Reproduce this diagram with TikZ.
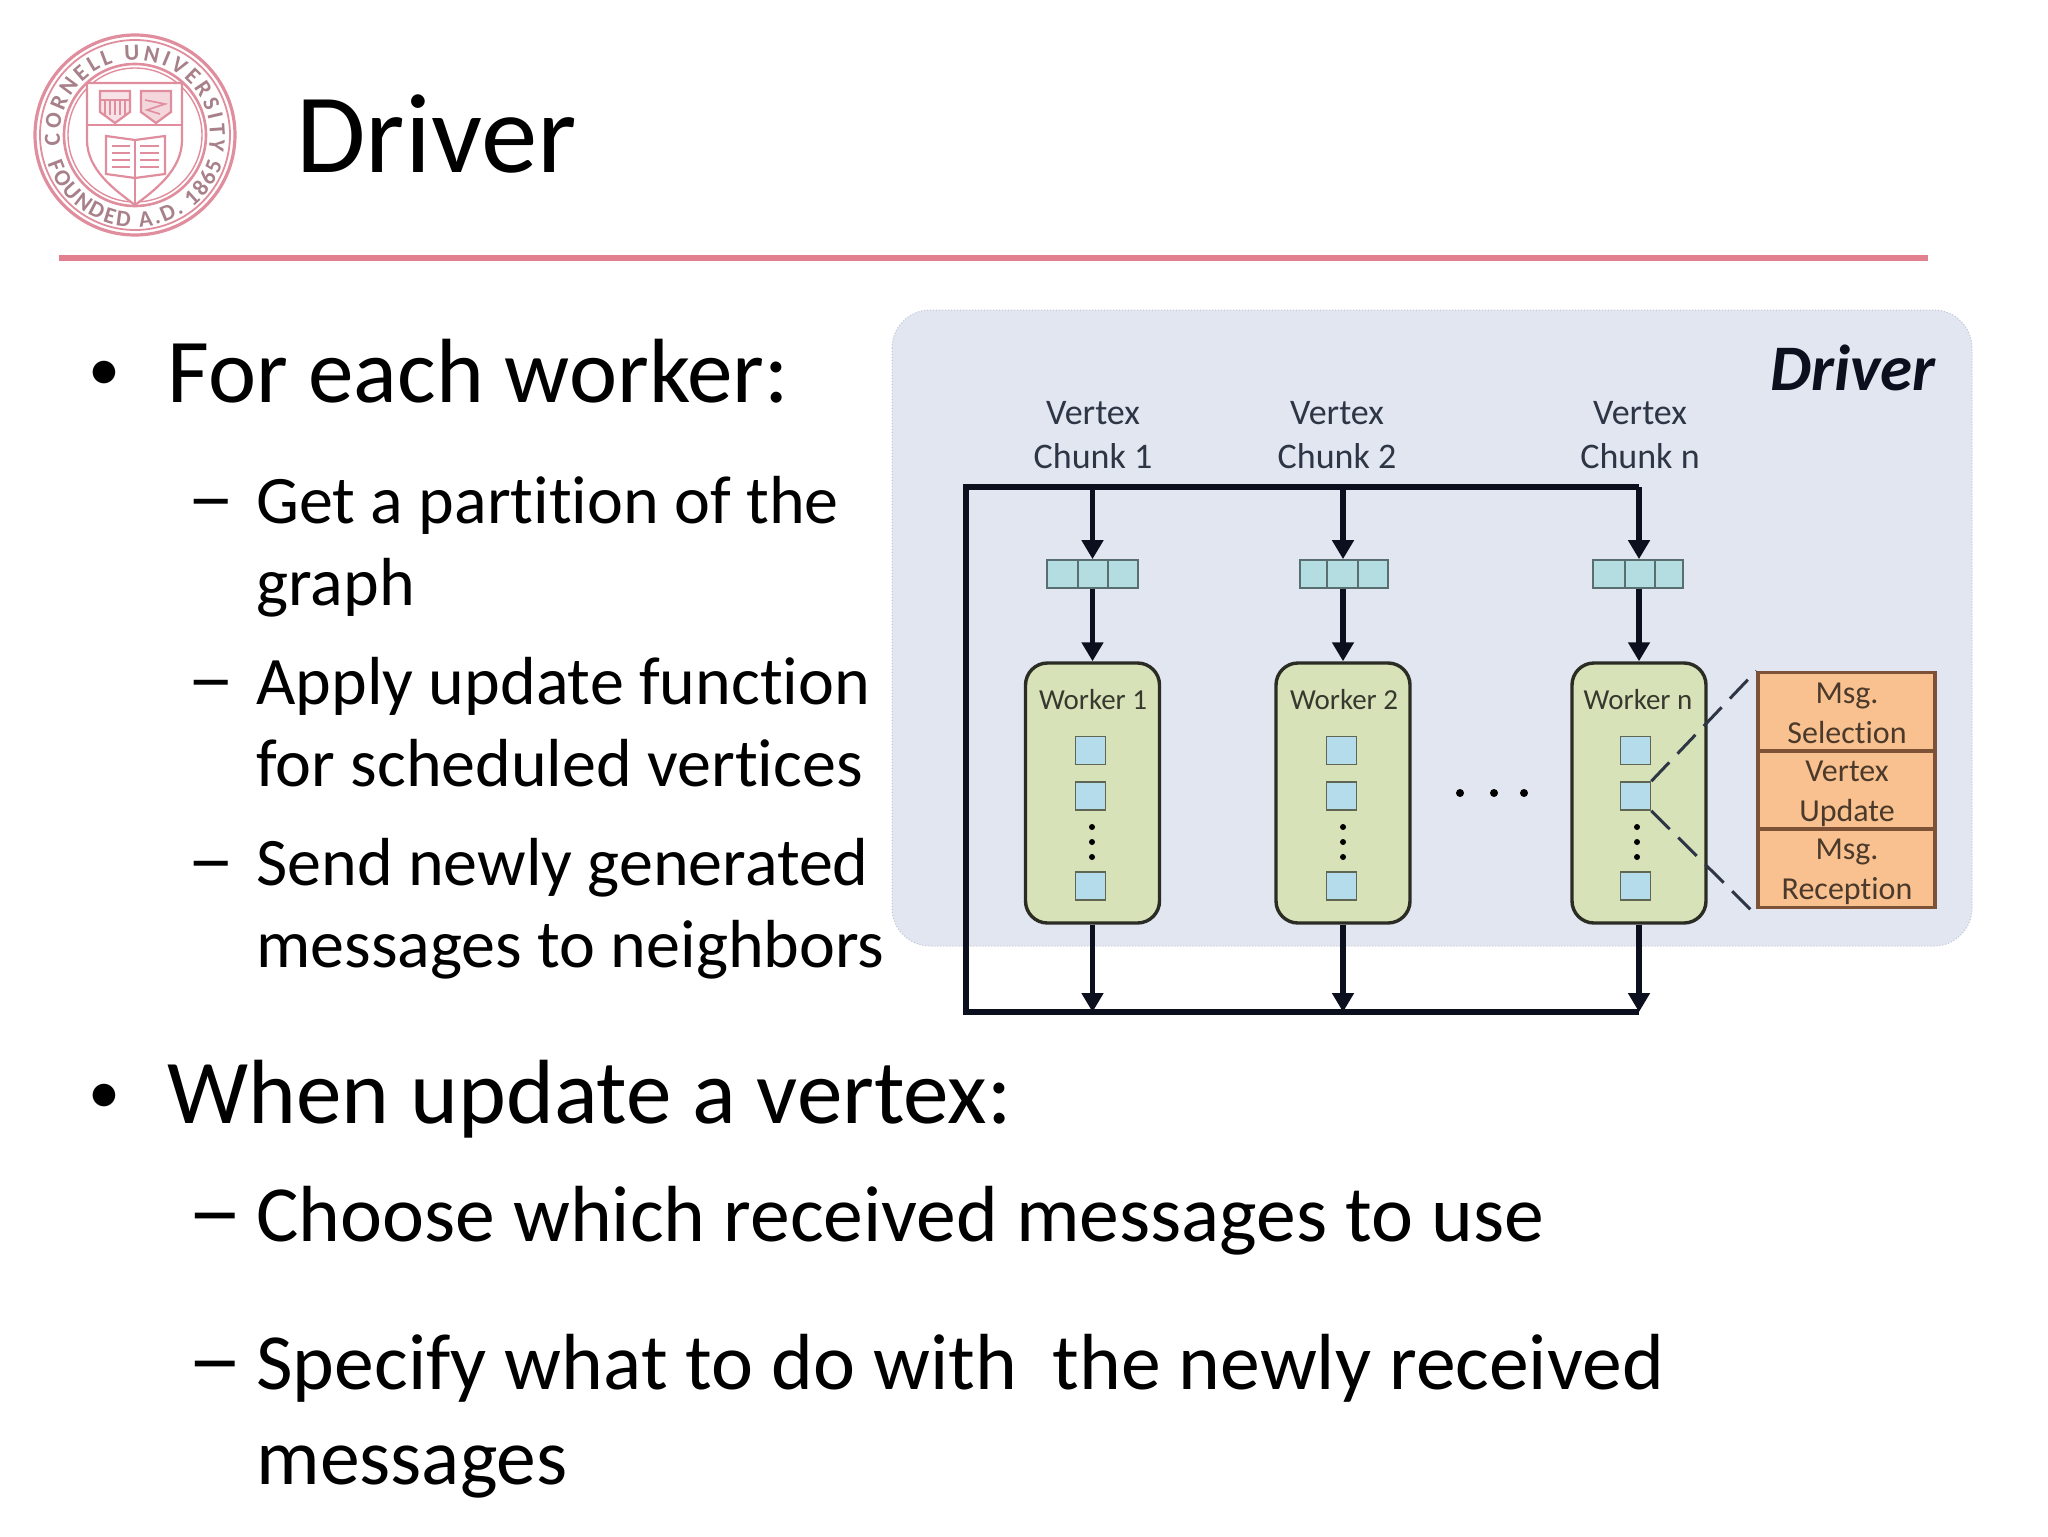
\documentclass[tikz,border=0pt]{standalone}
\usepackage{graphicx}
\usepackage{fontspec}
\setmainfont[Ligatures=NoCommon]{Carlito}
\usetikzlibrary{arrows.meta,calc,decorations.text}
\definecolor{panelc}{HTML}{E2E6F1}
\definecolor{workerc}{HTML}{D8E2B9}
\definecolor{cellc}{HTML}{B4DCEB}
\definecolor{queuec}{HTML}{B3DDE1}
\definecolor{orangec}{HTML}{F9C18F}
\definecolor{orangeb}{HTML}{7E5236}
\definecolor{rulec}{HTML}{E3808F}
\definecolor{crest}{HTML}{E08E9E}
\definecolor{lettercrest}{HTML}{A8808A}
\definecolor{ink}{HTML}{0B0F1E}
\definecolor{softink}{HTML}{2E3645}
\newcommand{\longdash}{\scalebox{1.4}[1.15]{–}}
\tikzset{
  x=0.5pt,y=-0.5pt,
  bigtxt/.style={anchor=base west,inner sep=0,font=\fontsize{45.6}{45.6}\selectfont},
  bullettxt/.style={anchor=base west,inner sep=0,font=\fontsize{32}{32}\selectfont},
  subtxt/.style={anchor=base west,inner sep=0,font=\fontsize{34}{34}\selectfont},
  lowtxt/.style={anchor=base west,inner sep=0,font=\fontsize{39.8}{39.8}\selectfont},
  bus/.style={draw=ink,line width=3pt,line join=miter},
  flow/.style={draw=ink,line width=2.8pt,-{Triangle[length=9.5pt,width=10.5pt]},shorten >=0pt},
  qcell/.style={draw=black!50!queuec,line width=0.9pt,fill=queuec,inner sep=0,minimum height=14pt},
  worker/.style={draw=black!80!workerc,line width=1.7pt,fill=workerc,rounded corners=11pt,inner sep=0,minimum width=67pt,minimum height=130pt},
  vcell/.style={draw=black!55!workerc,line width=0.8pt,fill=cellc,inner sep=0,minimum width=15pt,minimum height=14pt},
  wlabel/.style={inner sep=0,text=black!75!workerc,font=\fontsize{14.5}{14.5}\selectfont},
  chunk/.style={inner sep=0,align=center,text=softink,font=\fontsize{18}{22}\selectfont},
  vdot/.style={circle,fill=black,inner sep=0,minimum size=3pt},
  hdot/.style={circle,fill=black,inner sep=0,minimum size=4pt},
  msg/.style={draw=orangeb,line width=1.7pt,fill=orangec,inner sep=0,minimum width=88.5pt,minimum height=39pt},
  msgtxt/.style={inner sep=0,align=center,text=black!70!orangec,font=\fontsize{16}{20}\selectfont},
  zoomline/.style={draw=softink,line width=1.5pt,dash pattern=on 13pt off 6pt},
  crestline/.style={draw=crest,line width=1.1pt},
}
\begin{document}
\begin{tikzpicture}
\useasboundingbox (0,0) rectangle (2048,1536);
\fill[white] (0,0) rectangle (2048,1536);
% logo
\coordinate (logo) at (135,135);
\draw[crest,line width=1.6pt] (logo) circle[radius=50pt];
\draw[crest,line width=0.9pt] (logo) circle[radius=47.5pt];
\draw[crest,line width=1.3pt] (logo) circle[radius=35.5pt];
\draw[crest,line width=0.7pt] (logo) circle[radius=33.5pt];
\path[decorate,decoration={text along path,text align={fit to path},
  text={|\fontsize{11.5}{11.5}\selectfont\bfseries\color{lettercrest}|CORNELL UNIVERSITY}}]
  ([shift={(188:37.5pt)}]logo) arc[start angle=188,end angle=-12,radius=37.5pt];
\path[decorate,decoration={text along path,text align={fit to path},
  text={|\fontsize{11.5}{11.5}\selectfont\bfseries\color{lettercrest}|FOUNDED A.D. 1865}}]
  ([shift={(198:46pt)}]logo) arc[start angle=198,end angle=342,radius=46pt];
\draw[crestline,fill=white] (87,83) -- (182,83) -- (182,140) .. controls (182,170) and (155,190) .. (135,205) .. controls (115,190) and (87,170) .. (87,140) -- cycle;
\draw[crestline] (87,125) -- (182,125);
\draw[crestline] (135,177) -- (135,205);
\draw[crestline,fill=crest!25] (100,91) -- (130,91) -- (130,112) -- (115,123) -- (100,112) -- cycle;
\draw[crestline] (100,100) -- (130,100);
\foreach \lx in {105,110,115,120,125} \draw[crest,line width=0.7pt] (\lx,101) -- (\lx,115);
\draw[crestline,fill=crest!35] (141,91) -- (171,91) -- (171,112) -- (156,123) -- (141,112) -- cycle;
\draw[crest,line width=0.8pt] (145,100) -- (165,104) -- (147,110) -- (160,114);
\draw[crestline] (106,136) -- (135,140) -- (165,136) -- (165,174) -- (135,178) -- (106,174) -- cycle;
\draw[crestline] (135,140) -- (135,178);
\foreach \ly in {146,153,160,167} {
  \draw[crest,line width=0.9pt] (112,\ly) -- (130,\ly);
  \draw[crest,line width=0.9pt] (140,\ly) -- (159,\ly);
}
% title
\node[anchor=base west,inner sep=0,font=\fontsize{56.5}{56.5}\selectfont] (title) at (296,172) {Driver};
\draw[draw=rulec,line width=3pt] (59,258) -- (1928,258);
% left text
\node[bullettxt] (b1) at (88,390) {•};
\node[bigtxt] (t1) at (167,402) {For each worker:};
\node[subtxt] (d1) at (187,523) {\longdash};
\node[subtxt] (s1) at (256,523) {Get a partition of the};
\node[subtxt] (s1b) at (256,605) {graph};
\node[subtxt] (d2) at (187,704) {\longdash};
\node[subtxt] (s2) at (256,704) {Apply update function};
\node[subtxt] (s2b) at (256,786) {for scheduled vertices};
\node[subtxt] (d3) at (187,885) {\longdash};
\node[subtxt] (s3) at (256,885) {Send newly generated};
\node[subtxt] (s3b) at (256,967) {messages to neighbors};
\node[bullettxt] (b2) at (88,1113) {•};
\node[bigtxt] (t2) at (167,1123) {When update a vertex:};
\node[lowtxt] (d4) at (187,1241) {\longdash};
\node[lowtxt] (s4) at (256,1241) {Choose which received messages to use};
\node[lowtxt] (d5) at (187,1389) {\longdash};
\node[lowtxt] (s5) at (256,1389) {Specify what to do with\ \ the newly received};
\node[lowtxt] (s5b) at (256,1484) {messages};
% panel
\draw[fill=panelc,draw=panelc!85!black,densely dotted,line width=0.5pt,rounded corners=19pt] (892,310) rectangle (1972,946);
\node[anchor=base east,inner sep=0,text=ink,font=\fontsize{32.5}{32.5}\selectfont\bfseries\itshape] (drv) at (1936,390) {Driver};
% chunk labels
\node[chunk] (c1) at (1093,435) {Vertex\\Chunk 1};
\node[chunk] (c2) at (1337,435) {Vertex\\Chunk 2};
\node[chunk] (cn) at (1640,435) {Vertex\\Chunk n};
% queues
\node[qcell,minimum width=15.5pt] (q1a) at (1062.5,574) {};
\node[qcell,minimum width=15pt] (q1) at (1093,574) {};
\node[qcell,minimum width=15pt] (q1c) at (1123,574) {};
\node[qcell,minimum width=13.5pt] (q2a) at (1313.5,574) {};
\node[qcell,minimum width=15.5pt] (q2) at (1342.5,574) {};
\node[qcell,minimum width=15pt] (q2c) at (1373,574) {};
\node[qcell,minimum width=16pt] (qna) at (1609,574) {};
\node[qcell,minimum width=15pt] (qn) at (1640,574) {};
\node[qcell,minimum width=14pt] (qnc) at (1669,574) {};
% workers
\node[worker] (w1) at (1092.5,793) {};
\node[worker] (w2) at (1343,793) {};
\node[worker] (wn) at (1639,793) {};
\node[wlabel] (l1) at (1093,700) {Worker 1};
\node[wlabel] (l2) at (1344,700) {Worker 2};
\node[wlabel] (ln) at (1638,700) {Worker n};
\foreach \w/\cx/\dx in {1/1090.5/1092,2/1341.5/1343,n/1635.5/1637} {
  \node[vcell] (v\w a) at (\cx,750.5) {};
  \node[vcell] (v\w b) at (\cx,796) {};
  \node[vcell] (v\w c) at (\cx,886) {};
  \node[vdot] (v\w d1) at (\dx,827) {};
  \node[vdot] (v\w d2) at (\dx,842) {};
  \node[vdot] (v\w d3) at (\dx,857) {};
}
\node[hdot] (h1) at (1460,793) {};
\node[hdot] (h2) at (1494,793) {};
\node[hdot] (h3) at (1524,793) {};
% message stack
\node[msg] (m1) at (1846.5,711.5) {};
\node[msg] (m2) at (1846.5,790) {};
\node[msg] (m3) at (1846.5,868.5) {};
\node[msgtxt] (mt1) at (1847,713) {Msg.\\Selection};
\node[msgtxt] (mt2) at (1847,794) {Vertex\\Update};
\node[msgtxt] (mt3) at (1847,872) {Msg.\\Reception};
\draw[zoomline] (vnb.north east) -- (m1.north west);
\draw[zoomline] (vnb.south east) -- ([xshift=-3pt]m3.south west);
% buses
\coordinate (tl) at (966,487);
\coordinate (t1c) at (1092.5,487);
\coordinate (t2c) at (1343,487);
\coordinate (tr) at (1639,487);
\coordinate (bl) at (966,1012);
\coordinate (b1c) at (1092.5,1012);
\coordinate (b2c) at (1343,1012);
\coordinate (br) at (1639,1012);
\draw[bus] (tr) -- (tl) -- (bl) -- (br);
\draw[flow] (t1c) -- (t1c |- q1.north);
\draw[flow] (t2c) -- (t2c |- q2.north);
\draw[flow] (tr) -- (tr |- qn.north);
\draw[flow] (t1c |- q1.south) -- (w1.north);
\draw[flow] (t2c |- q2.south) -- (w2.north);
\draw[flow] (tr |- qn.south) -- (wn.north);
\draw[flow] (w1.south) -- (b1c);
\draw[flow] (w2.south) -- (b2c);
\draw[flow] (wn.south) -- (br);
\end{tikzpicture}
\end{document}
